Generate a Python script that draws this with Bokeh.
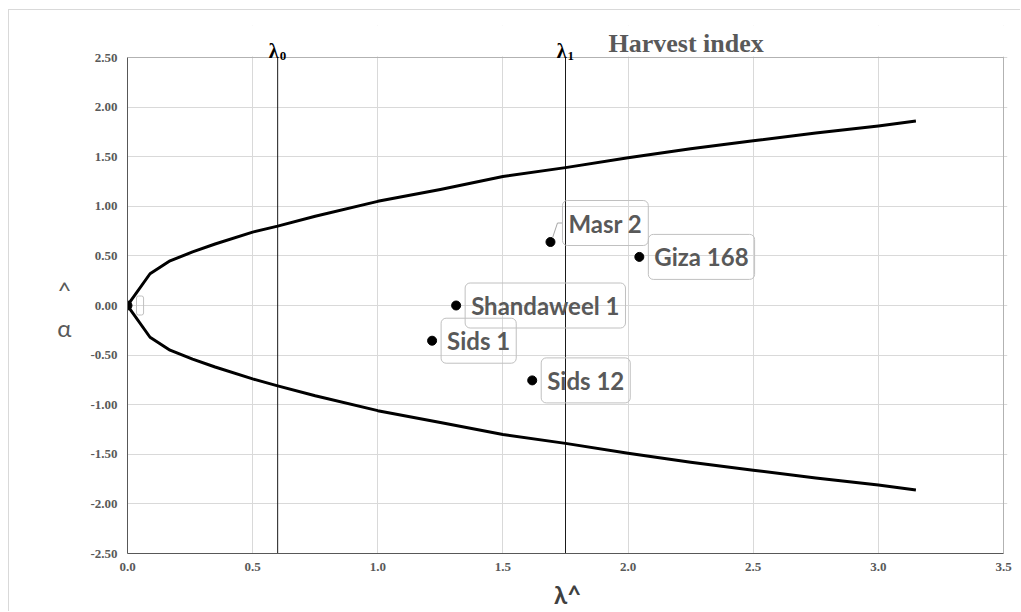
from bokeh.plotting import figure
from bokeh.models import Range1d, Label, FixedTicker, NumeralTickFormatter, BoxAnnotation
from bokeh.embed import file_html
from bokeh.resources import INLINE

# ---- data ----
curve_x = [0.0, 0.09, 0.17, 0.26, 0.35, 0.50, 0.60, 0.75, 1.00, 1.25, 1.50, 1.75, 2.00, 2.25, 2.50, 2.75, 3.00, 3.15]
upper_y = [0.0, 0.32, 0.45, 0.54, 0.62, 0.74, 0.80, 0.90, 1.05, 1.17, 1.30, 1.39, 1.49, 1.58, 1.66, 1.74, 1.81, 1.86]
lower_y = [0.0, -0.32, -0.45, -0.54, -0.62, -0.74, -0.81, -0.91, -1.06, -1.18, -1.30, -1.39, -1.49, -1.58, -1.66, -1.74, -1.81, -1.86]

names = ["", "Masr 2", "Giza 168", "Shandaweel 1", "Sids 1", "Sids 12"]
pt_x = [0.0, 1.69, 2.045, 1.313, 1.217, 1.617]
pt_y = [0.0, 0.64, 0.49, 0.0, -0.355, -0.755]

lambdas = [0.6, 1.75]
lambda_subs = ["0", "1"]

x_ticks = [0.0, 0.5, 1.0, 1.5, 2.0, 2.5, 3.0, 3.5]
y_ticks = [-2.5, -2.0, -1.5, -1.0, -0.5, 0.0, 0.5, 1.0, 1.5, 2.0, 2.5]

title_text = "Harvest index"
x_label = "λ^"
y_label = "\n^\nα"

# ---- layout (page pixels) ----
OX, OY = 9, 10                 # canvas origin on the page (after margin + 1px border)
W, H = 1021 - OX, 612 - OY
PL, PR, PT, PB = 127, 1003, 57, 553   # plot-area box on the page
FT = 25                        # frame top on the page (room for title / lambda labels)
XMIN, XMAX, YMIN, YMAX = 0.0, 3.5, -2.5, 2.5
sx = (PR - PL) / (XMAX - XMIN)
sy = (PB - PT) / (YMAX - YMIN)
x_end = XMAX + 4 / sx
y_end = YMAX + (PT - FT) / sy


def dx(px):
    return XMIN + (px - PL) / sx


def dy(py):
    return YMAX - (py - PT) / sy


p = figure(width=W, height=H, x_range=Range1d(XMIN, x_end), y_range=Range1d(YMIN, y_end),
           output_backend="svg", toolbar_location=None,
           min_border_left=PL - OX, min_border_right=(OX + W) - (PR + 4),
           min_border_top=FT - OY, min_border_bottom=(OY + H) - PB)
p.styles = {"margin-left": "8px", "margin-top": "9px",
            "border-left": "1px solid #d9d9d9", "border-top": "1px solid #d9d9d9"}
p.title.visible = False
p.background_fill_color = "white"
p.border_fill_color = "white"
p.outline_line_color = None

for ax, ticks, fmt, bounds in ((p.xaxis, x_ticks, "0.0", (XMIN, XMAX)), (p.yaxis, y_ticks, "0.00", (YMIN, YMAX))):
    ax.ticker = FixedTicker(ticks=ticks)
    ax.formatter = NumeralTickFormatter(format=fmt)
    ax.bounds = bounds
    ax.major_tick_in = 0
    ax.major_tick_out = 0
    ax.minor_tick_line_color = None
    ax.axis_line_color = "#595959"
    ax.major_label_standoff = 9
    ax.major_label_text_font = "Liberation Serif"
    ax.major_label_text_font_style = "bold"
    ax.major_label_text_font_size = "13px"
    ax.major_label_text_color = "#595959"

p.yaxis.major_label_standoff = 10
p.yaxis.axis_label = y_label
p.yaxis.axis_label_orientation = "horizontal"
p.yaxis.axis_label_standoff = 16
p.yaxis.axis_label_text_font = "Lato"
p.yaxis.axis_label_text_font_style = "normal"
p.yaxis.axis_label_text_font_size = "24px"
p.yaxis.axis_label_text_line_height = 1.3
p.yaxis.axis_label_text_color = "#595959"

p.xaxis.axis_label = x_label
p.xaxis.axis_label_standoff = 6
p.xaxis.axis_label_text_font = "Lato"
p.xaxis.axis_label_text_font_style = "bold"
p.xaxis.axis_label_text_font_size = "24px"
p.xaxis.axis_label_text_color = "#404040"

p.xgrid.ticker = FixedTicker(ticks=x_ticks)
p.ygrid.ticker = FixedTicker(ticks=y_ticks)
p.grid.grid_line_color = "#d9d9d9"
p.grid.grid_line_width = 1

# white cover above the plot area (hides grid lines there), then the plot-area outline
p.add_layout(BoxAnnotation(bottom=YMAX + 1 / sy, fill_color="white", fill_alpha=1, line_color=None))
p.add_layout(BoxAnnotation(left=XMIN, right=XMAX, bottom=YMIN, top=YMAX, fill_alpha=0,
                           line_color="#595959", line_width=1))

# lambda reference lines
p.segment(x0=lambdas, y0=[YMIN] * len(lambdas), x1=lambdas, y1=[YMAX] * len(lambdas),
          line_color="#1a1a1a", line_width=1)
for loc, sub in zip(lambdas, lambda_subs):
    p.add_layout(Label(x=loc, y=dy(50), x_offset=1, text="λ", text_align="right",
                       text_baseline="alphabetic", text_font="Liberation Serif",
                       text_font_style="bold", text_font_size="20px", text_color="black"))
    p.add_layout(Label(x=loc, y=dy(55), x_offset=2, text=sub, text_align="left",
                       text_baseline="alphabetic", text_font="Liberation Serif",
                       text_font_style="bold", text_font_size="13px", text_color="black"))

# curves
p.line(curve_x, upper_y, line_color="black", line_width=3, line_join="round")
p.line(curve_x, lower_y, line_color="black", line_width=3, line_join="round")

# points
p.scatter(pt_x, pt_y, size=9, color="black")

# data labels
lab_style = dict(text_font="Lato", text_font_style="bold", text_font_size="24px", text_color="#595959",
                 text_baseline="middle", text_align="left", border_line_color="#c0c0c0",
                 border_line_width=1, border_radius=5, background_fill_color=None,
                 padding=dict(left=6, right=6, top=8, bottom=8))
for nm, x, y in zip(names, pt_x, pt_y):
    if nm == "":
        p.add_layout(Label(x=x, y=y, x_offset=9, text=" ", text_font="Lato",
                           text_font_size="12px", text_baseline="middle", text_align="left",
                           border_line_color="#c0c0c0", border_line_width=1, border_radius=2,
                           background_fill_color=None, padding=2))
    elif nm == "Masr 2":
        p.add_layout(Label(x=x, y=y, x_offset=12, y_offset=19, text=nm, **lab_style))
        p.line([x + 2 / sx, x + 7 / sx, x + 12 / sx], [y + 4 / sy, y + 19 / sy, y + 19 / sy],
               line_color="#a6a6a6", line_width=1)
    else:
        p.add_layout(Label(x=x, y=y, x_offset=9, text=nm, **lab_style))

# chart title
p.add_layout(Label(x=dx(608), y=dy(43), text=title_text, text_align="left",
                   text_baseline="alphabetic", text_font="Liberation Serif", text_font_style="bold",
                   text_font_size="26px", text_color="#595959"))

open("out.html", "w").write(file_html(p, INLINE))
